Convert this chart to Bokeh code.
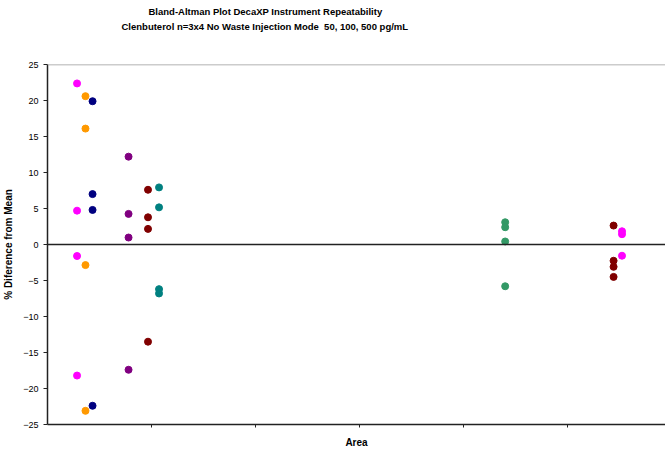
from bokeh.plotting import figure
from bokeh.models import Span, Title, FixedTicker, Range1d
from bokeh.embed import file_html
from bokeh.resources import INLINE

# ---- data ----
group_colors = ["#FF00FF", "#FF9900", "#000080", "#800080", "#800000",
                "#008080", "#339966", "#800000", "#FF00FF"]
group_area = [0.284, 0.365, 0.433, 0.779, 0.966, 1.072, 4.399, 5.441, 5.522]
group_diff = [
    [22.37, 4.7, -1.6, -18.2],
    [20.6, 16.1, -2.86, -23.1],
    [19.9, 7.0, 4.8, -22.4],
    [12.2, 4.25, 0.97, -17.4],
    [7.6, 3.78, 2.17, -13.5],
    [7.93, 5.16, -6.2, -6.8],
    [3.09, 2.4, 0.42, -5.8],
    [2.63, -2.26, -3.1, -4.5],
    [1.84, 1.43, -1.56],
]
y_ticks = [-25, -20, -15, -10, -5, 0, 5, 10, 15, 20, 25]
x_ticks = [1, 2, 3, 4, 5]

title_line1 = "Bland-Altman Plot DecaXP Instrument Repeatability"
title_line2 = "Clenbuterol n=3x4 No Waste Injection Mode \u00a050, 100, 500 pg/mL"

p = figure(width=665, height=450, output_backend="svg", toolbar_location=None,
           x_range=Range1d(0, 5.94), y_range=Range1d(-25, 25),
           min_border_left=47, min_border_right=0, min_border_bottom=25,
           min_border_top=64)
p.title = None
p.outline_line_color = None
p.background_fill_color = "white"
p.border_fill_color = "white"
p.xgrid.visible = False
p.ygrid.visible = False

spacer = Title(text=" ", standoff=19, text_font="Liberation Sans",
               text_font_size="9.5px")
t2 = Title(text=title_line2, align="left", offset=74, standoff=2,
           text_font="Liberation Sans", text_font_size="9.5px",
           text_font_style="bold", text_color="black")
t1 = Title(text=title_line1, align="left", offset=101, standoff=1,
           text_font="Liberation Sans", text_font_size="9.5px",
           text_font_style="bold", text_color="black")
p.add_layout(spacer, "above")
p.add_layout(t2, "above")
p.add_layout(t1, "above")

# lines
p.add_layout(Span(location=25, dimension="width", line_color="#999999", line_width=1.5))
p.add_layout(Span(location=0, dimension="width", line_color="#222222", line_width=1.5))

for c, xa, ys in zip(group_colors, group_area, group_diff):
    p.scatter([xa] * len(ys), ys, size=7, fill_color=c, line_color=c)

# y axis
ya = p.yaxis[0]
ya.ticker = FixedTicker(ticks=y_ticks)
ya.minor_tick_line_color = None
ya.major_tick_in = 0
ya.major_tick_out = 4
ya.axis_line_color = "#222222"
ya.axis_line_width = 1.5
ya.major_tick_line_color = "#222222"
ya.major_label_text_font = "Liberation Sans"
ya.major_label_text_font_size = "9px"
ya.major_label_text_color = "black"
ya.major_label_standoff = 5
ya.axis_label = "% Diference from Mean"
ya.axis_label_text_font = "Liberation Sans"
ya.axis_label_text_font_size = "10px"
ya.axis_label_text_font_style = "bold"
ya.axis_label_text_color = "black"
ya.axis_label_standoff = 6

# x axis
xa_ = p.xaxis[0]
xa_.ticker = FixedTicker(ticks=x_ticks)
xa_.minor_tick_line_color = None
xa_.major_tick_in = 0
xa_.major_tick_out = 3
xa_.axis_line_color = "#222222"
xa_.axis_line_width = 1.5
xa_.major_tick_line_color = "#222222"
xa_.major_label_overrides = {t: "" for t in x_ticks}
xa_.major_label_standoff = 0
xa_.axis_label = "Area"
xa_.axis_label_text_font = "Liberation Sans"
xa_.axis_label_text_font_size = "10px"
xa_.axis_label_text_font_style = "bold"
xa_.axis_label_text_color = "black"
xa_.axis_label_standoff = 9

open("out.html", "w").write(file_html(p, INLINE))
